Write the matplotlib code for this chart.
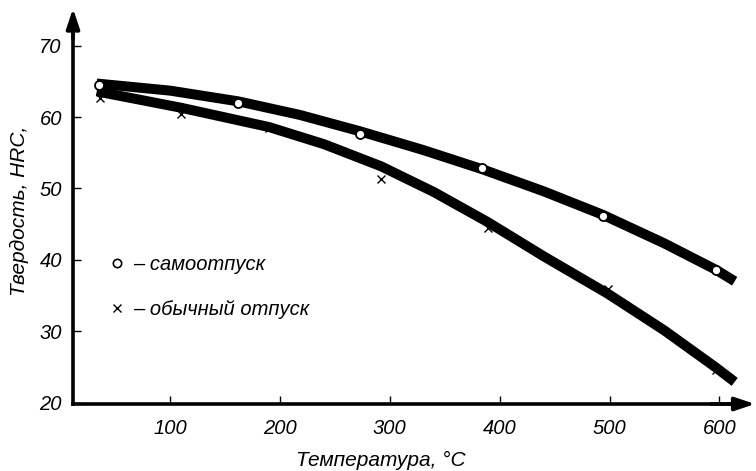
import matplotlib.pyplot as plt
from matplotlib.lines import Line2D

plt.rcParams['font.family'] = ['Liberation Sans', 'DejaVu Sans']

# measured points
t_self = [35, 162, 273, 384, 494, 597]
hrc_self = [64.5, 62.0, 57.6, 52.9, 46.2, 38.6]
t_usual = [36, 110, 190, 292, 389, 499, 597]
hrc_usual = [62.7, 60.5, 58.4, 51.3, 44.4, 35.9, 24.6]

# drawn curves
curve_self_t = [33, 100, 162, 218, 273, 330, 384, 440, 494, 550, 597, 614]
curve_self_hrc = [64.7, 63.7, 62.2, 60.3, 58.0, 55.4, 52.7, 49.6, 46.3, 42.3, 38.6, 37.0]
curve_usual_t = [33, 110, 190, 240, 292, 340, 389, 440, 499, 550, 597, 614]
curve_usual_hrc = [63.6, 61.3, 58.6, 56.2, 53.1, 49.5, 45.3, 40.5, 35.2, 30.1, 24.9, 22.9]

xticks = [100, 200, 300, 400, 500, 600]
yticks = [20, 30, 40, 50, 60, 70]

fig = plt.figure(figsize=(7.56, 4.71), dpi=100)
ax = fig.add_axes([73 / 756, 67 / 471, 672 / 756, 384 / 471])

ax.plot(curve_self_t, curve_self_hrc, color='black', lw=7.2,
        solid_capstyle='butt', solid_joinstyle='round', zorder=3)
ax.plot(curve_usual_t, curve_usual_hrc, color='black', lw=7.2,
        solid_capstyle='butt', solid_joinstyle='round', zorder=3)
ax.plot(t_usual, hrc_usual, ls='none', marker='x', ms=6, mew=1.0,
        color='black', zorder=2)
ax.plot(t_self, hrc_self, ls='none', marker='o', ms=6.5, mew=1.3,
        mfc='white', mec='black', zorder=4)

ax.set_xlim(11.4, 623.4)
ax.set_ylim(19.8, 73.6)
ax.set_xticks(xticks)
ax.set_yticks(yticks)
ax.tick_params(direction='in', length=6, width=1, labelsize=14.5)
ax.tick_params(axis='x', pad=11)
ax.tick_params(axis='y', pad=8)
for lab in ax.get_xticklabels() + ax.get_yticklabels():
    lab.set_style('italic')

for s in ['top', 'right']:
    ax.spines[s].set_visible(False)
for s in ['left', 'bottom']:
    ax.spines[s].set_linewidth(2.6)

# axis arrows
ax.annotate('', xy=(1.015, 0), xytext=(0.95, 0), xycoords='axes fraction',
            arrowprops=dict(arrowstyle='-|>,head_length=1.2,head_width=0.4',
                            color='black', lw=2.6, shrinkA=0, shrinkB=0))
ax.annotate('', xy=(0, 1.03), xytext=(0, 0.95), xycoords='axes fraction',
            arrowprops=dict(arrowstyle='-|>,head_length=1.2,head_width=0.4',
                            color='black', lw=2.6, shrinkA=0, shrinkB=0))

fig.text(381 / 756, 1 - 460 / 471, 'Температура, °C', ha='center', va='center',
         fontsize=15, style='italic')
fig.text(19 / 756, 1 - 211 / 471, 'Твердость, HRC,', ha='center', va='center',
         rotation=90, fontsize=15, style='italic')

handles = [
    Line2D([], [], ls='none', marker='o', ms=6, mew=1.2, mfc='white', mec='black'),
    Line2D([], [], ls='none', marker='x', ms=6, mew=1.0, color='black'),
]
ax.legend(handles, ['– самоотпуск', '– обычный отпуск'], frameon=False,
          loc='upper left', bbox_to_anchor=(0.045, 0.41), handlelength=0.6,
          handletextpad=0.5, labelspacing=1.3, borderaxespad=0,
          prop=dict(size=14.5, style='italic'))

fig.savefig('out.png', dpi=100)
